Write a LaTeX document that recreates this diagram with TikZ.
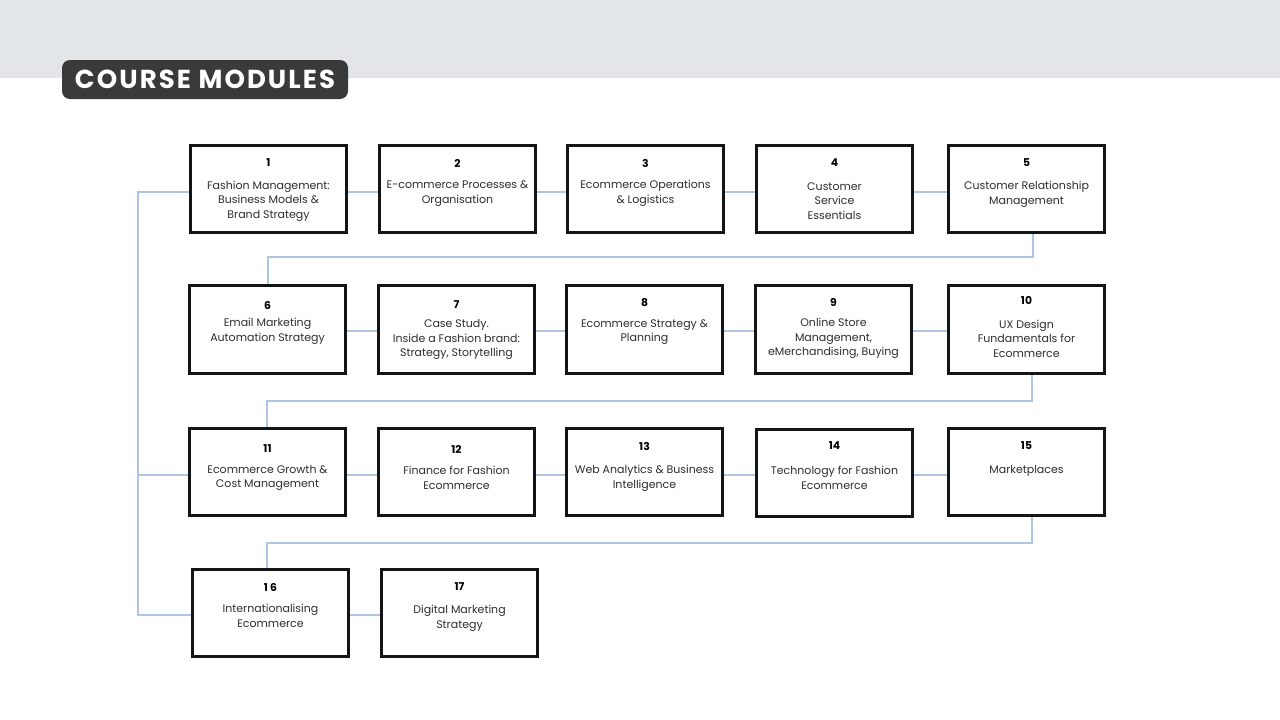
\documentclass[tikz,border=0pt]{standalone}
\usepackage{fontspec}
\setmainfont{Poppins}
\newfontfamily\titlefont[LetterSpace=8]{Poppins}
\usetikzlibrary{backgrounds}
\definecolor{band}{HTML}{E3E6E9}
\definecolor{conn}{HTML}{AEC5E2}
\definecolor{titlebg}{HTML}{3A3A3A}
\definecolor{txt}{HTML}{2E2E2E}
\newcommand\modbox[7]{%
  \node[mod] (#1) at (#2,#3) {};
  \node[num] (#1n) at (#2,#4+1) {#5};
  \node[lbl] (#1t) at (#2,#6+1.5) {#7};
}
\begin{document}
\begin{tikzpicture}[x=1pt,y=-1pt,
  mod/.style={draw=black!92, line width=2.6pt, fill=white, minimum width=156.5pt, minimum height=87.5pt, inner sep=0},
  num/.style={font=\fontsize{10.8}{12}\selectfont\bfseries, text=black, inner sep=0},
  lbl/.style={font=\fontsize{11}{14.6}\selectfont, text=txt, align=center, inner sep=0},
  link/.style={draw=conn, line width=2.3pt}]
\useasboundingbox (0,0) rectangle (1280,720);
% boxes
\modbox{b1}{268.5}{189}{162}{1}{199.5}{Fashion Management:\\Business Models \&\\Brand Strategy}
\modbox{b2}{457.5}{189}{162}{2}{192}{E-commerce Processes \&\\Organisation}
\modbox{b3}{645.5}{189}{162}{3}{192}{Ecommerce Operations\\\& Logistics}
\modbox{b4}{834.5}{189}{162}{4}{199.5}{Customer\\Service\\Essentials}
\modbox{b5}{1026.5}{189}{162}{5}{192.5}{Customer Relationship\\Management}
\modbox{b6}{267.5}{329.5}{304}{6}{329.5}{Email Marketing\\Automation Strategy}
\modbox{b7}{456.5}{329.5}{304}{7}{338}{Case Study.\\Inside a Fashion brand:\\Strategy, Storytelling}
\modbox{b8}{644.5}{329.5}{302}{8}{330.5}{Ecommerce Strategy \&\\Planning}
\modbox{b9}{833.5}{329.5}{301}{9}{337}{Online Store\\Management,\\eMerchandising, Buying}
\modbox{b10}{1026.5}{329.5}{299}{10}{337}{UX Design\\Fundamentals for\\Ecommerce}
\modbox{b11}{267.5}{472}{448}{11}{476.5}{Ecommerce Growth \&\\Cost Management}
\modbox{b12}{456.5}{472}{448}{12}{476.5}{Finance for Fashion\\Ecommerce}
\modbox{b13}{644.5}{472}{445}{13}{476.5}{Web Analytics \& Business\\Intelligence}
\modbox{b14}{834.5}{473}{445}{14}{476.5}{Technology for Fashion\\Ecommerce}
\modbox{b15}{1026.5}{472}{445}{15}{469}{Marketplaces}
\modbox{b16}{270.5}{613}{586}{1 6}{614.5}{Internationalising\\Ecommerce}
\modbox{b17}{459.5}{613}{586}{17}{616.5}{Digital Marketing\\Strategy}
% title
\node[fill=titlebg, rounded corners=8pt, minimum width=286pt, minimum height=39pt, inner sep=0,
      text=white, font=\titlefont\fontsize{26}{28}\selectfont\bfseries] (title) at (205,79.5) {COURSE MODULES};
% helper coordinates
\coordinate (r1) at (0,192);
\coordinate (r2) at (0,331);
\coordinate (r3) at (0,475);
\coordinate (r4) at (0,615);
\coordinate (s1) at (138,192);
\coordinate (s3) at (138,475);
\coordinate (s4) at (138,615);
\coordinate (t1a) at (1033,257);
\coordinate (t1b) at (268,257);
\coordinate (t2a) at (1032,401);
\coordinate (t2b) at (267,401);
\coordinate (t3a) at (1032,543);
\coordinate (t3b) at (267,543);
\begin{scope}[on background layer]
  \fill[white] (0,0) rectangle (1280,720);
  \fill[band] (0,0) rectangle (1280,78);
  % row links
  \draw[link] (b1.east |- r1) -- (b2.west |- r1);
  \draw[link] (b2.east |- r1) -- (b3.west |- r1);
  \draw[link] (b3.east |- r1) -- (b4.west |- r1);
  \draw[link] (b4.east |- r1) -- (b5.west |- r1);
  \draw[link] (b6.east |- r2) -- (b7.west |- r2);
  \draw[link] (b7.east |- r2) -- (b8.west |- r2);
  \draw[link] (b8.east |- r2) -- (b9.west |- r2);
  \draw[link] (b9.east |- r2) -- (b10.west |- r2);
  \draw[link] (b11.east |- r3) -- (b12.west |- r3);
  \draw[link] (b12.east |- r3) -- (b13.west |- r3);
  \draw[link] (b13.east |- r3) -- (b14.west |- r3);
  \draw[link] (b14.east |- r3) -- (b15.west |- r3);
  \draw[link] (b16.east |- r4) -- (b17.west |- r4);
  % row transitions
  \draw[link] (b5.south -| t1a) -- (t1a) -- (t1b) -- (b6.north -| t1b);
  \draw[link] (b10.south -| t2a) -- (t2a) -- (t2b) -- (b11.north -| t2b);
  \draw[link] (b15.south -| t3a) -- (t3a) -- (t3b) -- (b16.north -| t3b);
  % left spine
  \draw[link] (b1.west |- r1) -- (s1) -- (s4) -- (b16.west |- r4);
  \draw[link] (s3) -- (b11.west |- r3);
\end{scope}
\end{tikzpicture}
\end{document}
